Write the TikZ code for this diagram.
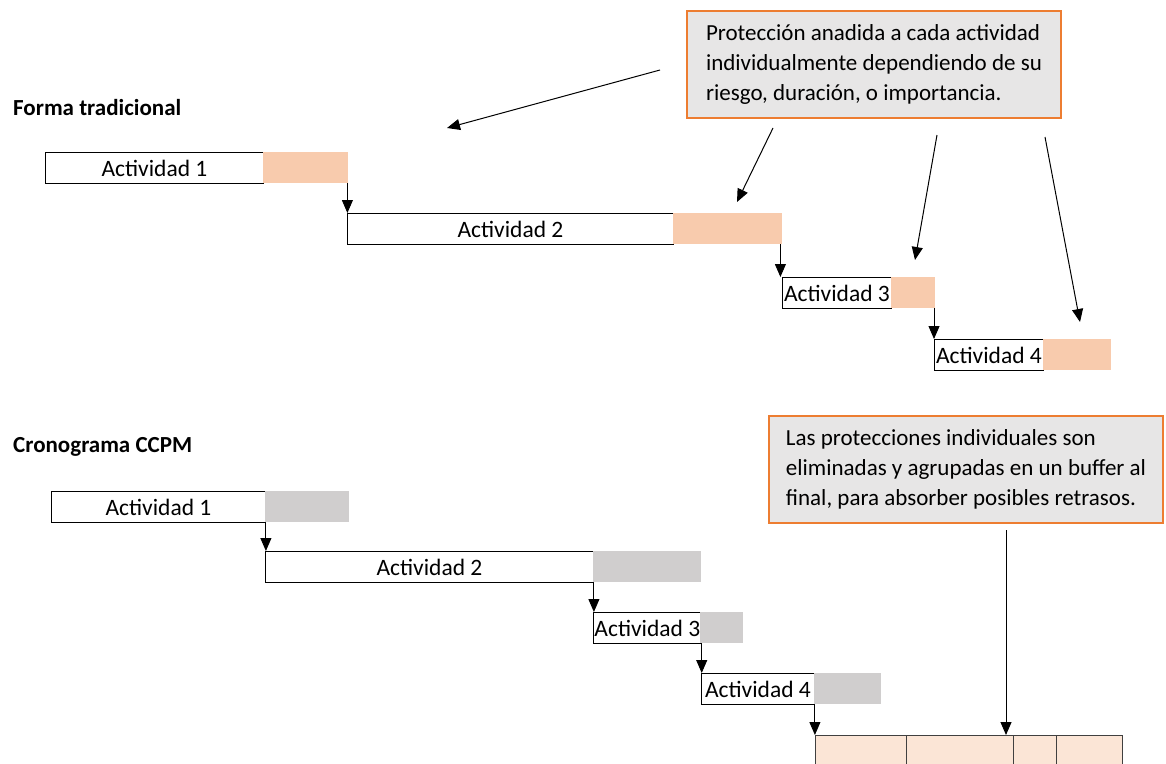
\documentclass[tikz,border=0pt]{standalone}
\usepackage{fontspec}
\setmainfont{Carlito}
\usetikzlibrary{arrows.meta}
\definecolor{bufpeach}{HTML}{F8CBAD}
\definecolor{bufgray}{HTML}{D0CECE}
\definecolor{poolfill}{HTML}{FBE5D6}
\definecolor{noteline}{HTML}{ED7D31}
\definecolor{notefill}{HTML}{E7E6E6}
\begin{document}
\begin{tikzpicture}[x=1pt,y=-1pt,
  act/.style={draw=black, line width=0.9pt, fill=white, inner sep=1pt,
    anchor=north west, minimum height=31pt, font=\fontsize{23.5}{27}\selectfont},
  buf/.style={anchor=north west, inner sep=0pt, minimum height=31pt},
  link/.style={line width=0.9pt, -{Triangle[length=13pt,width=11pt]}},
  pointer/.style={line width=1pt, -{Triangle[length=13pt,width=11pt]}},
  note/.style={draw=noteline, line width=2pt, fill=notefill, anchor=north west,
    align=left, font=\fontsize{23}{30}\selectfont},
  heading/.style={anchor=west, inner sep=0pt, font=\fontsize{23}{26}\selectfont\bfseries},
  pool/.style={draw=black!75, line width=0.9pt, fill=poolfill, anchor=north west,
    inner sep=0pt, minimum height=40pt}]
\useasboundingbox (0,0) rectangle (1166,763);

% ---------- traditional schedule ----------
\node[heading] (h1) at (13,108) {Forma tradicional};

\node[act, minimum width=218pt] (a1) at (45,152) {Actividad 1};
\node[buf, fill=bufpeach, minimum width=85pt] (b1) at (263,152) {};
\node[act, minimum width=326pt] (a2) at (347,213) {Actividad 2};
\node[buf, fill=bufpeach, minimum width=109pt] (b2) at (673,213) {};
\node[act, minimum width=109pt] (a3) at (782,277) {Actividad 3};
\node[buf, fill=bufpeach, minimum width=44pt] (b3) at (891,277) {};
\node[act, minimum width=109pt] (a4) at (934,339) {Actividad 4};
\node[buf, fill=bufpeach, minimum width=68pt] (b4) at (1043,339) {};

\draw[link] ([xshift=-1pt]b1.south east) -- ([xshift=-1pt]b1.south east |- a2.north);
\draw[link] ([xshift=-2pt]b2.south east) -- ([xshift=-2pt]b2.south east |- a3.north);
\draw[link] (a4.north west |- b3.south) -- (a4.north west);

\node[note, minimum width=374pt, minimum height=107pt] (n1) at (686,10)
  {Protección anadida a cada actividad\\individualmente dependiendo de su\\riesgo, duración, o importancia.};

\coordinate (p1s) at (660,70);   \coordinate (p1e) at (447,128);
\coordinate (p2s) at (773,128);  \coordinate (p2e) at (737,202);
\coordinate (p3s) at (937,135);  \coordinate (p3e) at (915,260);
\coordinate (p4s) at (1045,137); \coordinate (p4e) at (1080,322);
\draw[pointer] (p1s) -- (p1e);
\draw[pointer] (p2s) -- (p2e);
\draw[pointer] (p3s) -- (p3e);
\draw[pointer] (p4s) -- (p4e);

% ---------- CCPM schedule ----------
\node[heading] (h2) at (13,447) {Cronograma CCPM};

\node[act, minimum width=214pt] (c1) at (51,491) {Actividad 1};
\node[buf, fill=bufgray, minimum width=84pt] (g1) at (265,491) {};
\node[act, minimum width=328pt] (c2) at (265,551) {Actividad 2};
\node[buf, fill=bufgray, minimum width=108pt] (g2) at (593,551) {};
\node[act, minimum width=107pt] (c3) at (593,612) {Actividad 3};
\node[buf, fill=bufgray, minimum width=43pt] (g3) at (700,612) {};
\node[act, minimum width=113pt] (c4) at (701,673) {Actividad 4};
\node[buf, fill=bufgray, minimum width=67pt] (g4) at (814,673) {};

\node[pool, minimum width=91pt]  (q1) at (815,735) {};
\node[pool, minimum width=107pt] (q2) at (906,735) {};
\node[pool, minimum width=43pt]  (q3) at (1013,735) {};
\node[pool, minimum width=66pt]  (q4) at (1056,735) {};

\draw[link] (c1.south east) -- (c1.south east |- c2.north);
\draw[link] (c2.south east) -- (c2.south east |- c3.north);
\draw[link] (c3.south east) -- (c3.south east |- c4.north);
\draw[link] (c4.south east) -- (c4.south east |- q1.north);

\node[note, minimum width=394pt, minimum height=107pt] (n2) at (768,415)
  {Las protecciones individuales son\\eliminadas y agrupadas en un buffer al\\final, para absorber posibles retrasos.};

\coordinate (p5s) at (1006,530);
\draw[pointer] (p5s) -- (p5s |- q2.north);
\end{tikzpicture}
\end{document}
